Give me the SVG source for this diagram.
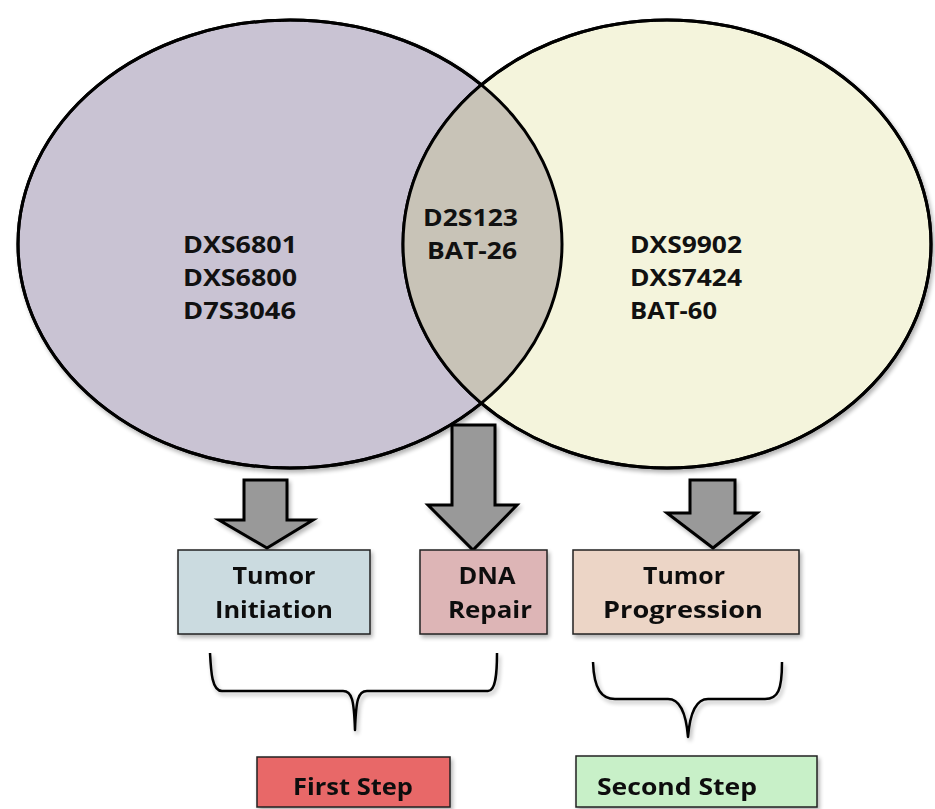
<svg xmlns="http://www.w3.org/2000/svg" width="935" height="809" viewBox="0 0 935 809">
<defs>
<filter id="sh" x="-10%" y="-10%" width="130%" height="130%">
<feGaussianBlur in="SourceAlpha" stdDeviation="2"/>
<feOffset dx="2" dy="3" result="b"/>
<feComponentTransfer><feFuncA type="linear" slope="0.3"/></feComponentTransfer>
<feMerge><feMergeNode/><feMergeNode in="SourceGraphic"/></feMerge>
</filter>
<clipPath id="leftClip"><ellipse cx="290" cy="244" rx="272" ry="224"/></clipPath>
</defs>
<style>
.lbl{font-family:"Open Sans","Liberation Sans",sans-serif;font-weight:bold;font-size:23px;fill:#111}
.bl{font-family:"Open Sans","Liberation Sans",sans-serif;font-weight:bold;font-size:23px;fill:#111;text-anchor:middle}
.ell{stroke:#000;stroke-width:3}
.box{stroke:#222;stroke-width:1.5}
.arr{fill:#999;stroke:#000;stroke-width:3;stroke-linejoin:miter}
.brace{fill:none;stroke:#000;stroke-width:2.5;stroke-linejoin:round}
</style>
<g id="venn" filter="url(#sh)">
<ellipse id="left-set" class="ell" cx="290" cy="244" rx="272" ry="224" fill="#c9c3d3"/>
<ellipse id="right-set" class="ell" cx="667" cy="244" rx="264" ry="224" fill="#f4f4dc"/>
<ellipse clip-path="url(#leftClip)" cx="667" cy="244" rx="264" ry="224" fill="#c8c3b7" stroke="none"/>
<ellipse cx="290" cy="244" rx="272" ry="224" fill="none" stroke="#000" stroke-width="3"/>
<ellipse cx="667" cy="244" rx="264" ry="224" fill="none" stroke="#000" stroke-width="3"/>
</g>
<g id="left-labels">
<text class="lbl" x="183" y="253" textLength="114" lengthAdjust="spacingAndGlyphs">DXS6801</text>
<text class="lbl" x="183" y="286" textLength="114" lengthAdjust="spacingAndGlyphs">DXS6800</text>
<text class="lbl" x="183" y="319" textLength="113" lengthAdjust="spacingAndGlyphs">D7S3046</text>
</g>
<g id="lens-labels">
<text class="lbl" x="423" y="226" textLength="95" lengthAdjust="spacingAndGlyphs">D2S123</text>
<text class="lbl" x="427" y="259" textLength="90" lengthAdjust="spacingAndGlyphs">BAT-26</text>
</g>
<g id="right-labels">
<text class="lbl" x="630" y="253" textLength="112" lengthAdjust="spacingAndGlyphs">DXS9902</text>
<text class="lbl" x="630" y="286" textLength="112" lengthAdjust="spacingAndGlyphs">DXS7424</text>
<text class="lbl" x="630" y="319" textLength="87" lengthAdjust="spacingAndGlyphs">BAT-60</text>
</g>
<g id="connectors" filter="url(#sh)">
<polygon class="arr" points="244,480 287,480 287,520 313,520 267,548 219,520 244,520"/>
<polygon class="arr" points="452,425 495,425 495,505 517,505 473,550 428,505 452,505"/>
<polygon class="arr" points="690,480 735,480 735,513 757,513 713,548 667,513 690,513"/>
<path class="brace" d="M210,653 C211,672 212,691 222,691 L343,691 C352,691 354,700 355,730 C356,700 358,691 367,691 L488,691 C496,691 497,672 497,653"/>
<path class="brace" d="M593,662 C594,690 602,699 615,699 L668,699 C680,699 686,712 688,737 C690,712 696,699 708,699 L765,699 C778,699 782,690 782,662"/>
</g>
<g id="tumor-initiation" filter="url(#sh)">
<rect class="box" x="178" y="550" width="192" height="84" fill="#cbdbe0"/>
<text class="bl" x="274" y="584" textLength="83" lengthAdjust="spacingAndGlyphs">Tumor</text>
<text class="bl" x="274" y="618" textLength="118" lengthAdjust="spacingAndGlyphs">Initiation</text>
</g>
<g id="dna-repair" filter="url(#sh)">
<rect class="box" x="420" y="550" width="127" height="84" fill="#ddb5b6"/>
<text class="bl" x="487" y="584" textLength="57" lengthAdjust="spacingAndGlyphs">DNA</text>
<text class="bl" x="490" y="618" textLength="84" lengthAdjust="spacingAndGlyphs">Repair</text>
</g>
<g id="tumor-progression" filter="url(#sh)">
<rect class="box" x="573" y="550" width="226" height="84" fill="#ecd5c6"/>
<text class="bl" x="684" y="584" textLength="82" lengthAdjust="spacingAndGlyphs">Tumor</text>
<text class="bl" x="683" y="618" textLength="160" lengthAdjust="spacingAndGlyphs">Progression</text>
</g>
<g id="first-step" filter="url(#sh)">
<rect class="box" x="257" y="757" width="193" height="50" fill="#e86767"/>
<text class="bl" x="353" y="795" textLength="120" lengthAdjust="spacingAndGlyphs">First Step</text>
</g>
<g id="second-step" filter="url(#sh)">
<rect class="box" x="576" y="756" width="241" height="51" fill="#c8f0c8"/>
<text class="bl" x="677" y="795" textLength="160" lengthAdjust="spacingAndGlyphs">Second Step</text>
</g>
</svg>
